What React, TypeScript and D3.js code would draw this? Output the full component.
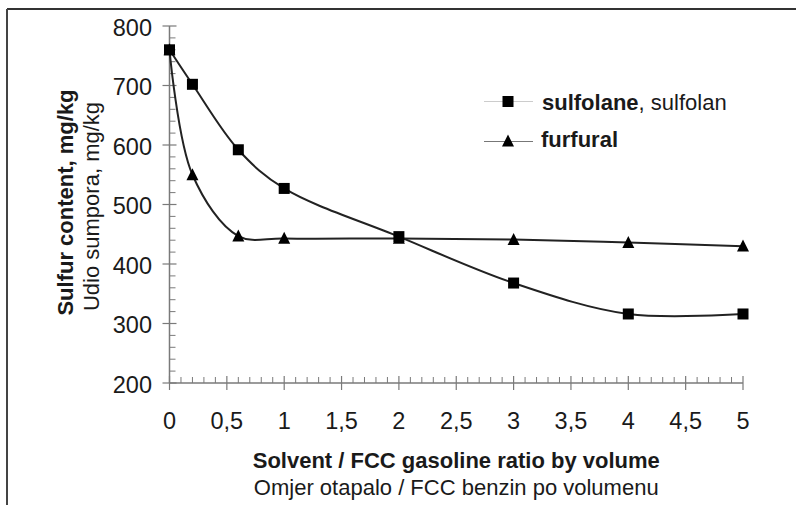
import React from "react";
import * as d3 from "d3";

const ratios = [0, 0.2, 0.6, 1, 2, 3, 4, 5];
const sulfolane = [760, 702, 592, 527, 446, 368, 316, 316];
const furfural = [760, 550, 447, 443, 443, 441, 436, 430];
const xTicks = [0, 0.5, 1, 1.5, 2, 2.5, 3, 3.5, 4, 4.5, 5];
const yTicks = [200, 300, 400, 500, 600, 700, 800];
const xTitle = "Solvent / FCC gasoline ratio by volume";
const xSubtitle = "Omjer otapalo / FCC benzin po volumenu";
const yTitle = "Sulfur content, mg/kg";
const ySubtitle = "Udio sumpora, mg/kg";

const W = 796;
const H = 505;
const FONT = "'Liberation Sans', Arial, Helvetica, sans-serif";

export default function App() {
  const x = d3.scaleLinear().domain([0, 5]).range([169.5, 743]);
  const y = d3.scaleLinear().domain([200, 800]).range([383, 26]);
  const line = d3
    .line<[number, number]>()
    .x((d) => x(d[0]))
    .y((d) => y(d[1]))
    .curve(d3.curveCatmullRom.alpha(0.5));

  const sData: [number, number][] = ratios.map((r, i) => [r, sulfolane[i]]);
  const fData: [number, number][] = ratios.map((r, i) => [r, furfural[i]]);

  const xMinor = d3.range(0, 5.0001, 0.1).filter((v) => Math.abs(v * 2 - Math.round(v * 2)) > 1e-6);
  const yMinor = d3.range(200, 801, 20).filter((v) => v % 100 !== 0);

  const axisColor = "#7a7a7a";
  const ink = "#1a1a1a";
  const tri = (cx: number, cy: number, s = 12) =>
    `M${cx},${cy - s * 0.55} L${cx + s / 2},${cy + s * 0.45} L${cx - s / 2},${cy + s * 0.45} Z`;

  const plotCy = (y(200) + y(800)) / 2;
  const plotCx = (x(0) + x(5)) / 2;

  return (
    <svg
      width={W}
      height={H}
      style={{ position: "absolute", left: 0, top: 0, background: "#fff" }}
      fontFamily={FONT}
    >
      <rect x={0} y={0} width={W} height={H} fill="#fff" />
      {/* frame */}
      <line x1={7} y1={9} x2={W} y2={9} stroke="#333" strokeWidth={2} />
      <line x1={7} y1={9} x2={7} y2={H} stroke="#444" strokeWidth={2} />

      {/* axes */}
      <line x1={x(0)} y1={y(200)} x2={x(0)} y2={y(800)} stroke={axisColor} strokeWidth={1.5} />
      <line x1={x(0)} y1={y(200)} x2={x(5)} y2={y(200)} stroke={axisColor} strokeWidth={1.5} />
      {yTicks.map((t) => (
        <line key={"ym" + t} x1={x(0) - 7} x2={x(0) + 7} y1={y(t)} y2={y(t)} stroke={axisColor} strokeWidth={1.2} />
      ))}
      {yMinor.map((t) => (
        <line key={"yn" + t} x1={x(0)} x2={x(0) + 6} y1={y(t)} y2={y(t)} stroke={axisColor} strokeWidth={1} />
      ))}
      {xTicks.map((t) => (
        <line key={"xm" + t} x1={x(t)} x2={x(t)} y1={y(200) - 7} y2={y(200) + 7} stroke={axisColor} strokeWidth={1.2} />
      ))}
      {xMinor.map((t) => (
        <line key={"xn" + t} x1={x(t)} x2={x(t)} y1={y(200) - 6} y2={y(200)} stroke={axisColor} strokeWidth={1} />
      ))}

      {/* tick labels */}
      {yTicks.map((t) => (
        <text key={"yl" + t} x={152} y={y(t) + 9.5} textAnchor="end" fontSize={23.5} fill={ink}>
          {t}
        </text>
      ))}
      {xTicks.map((t) => (
        <text key={"xl" + t} x={x(t)} y={429} textAnchor="middle" fontSize={23.5} fill={ink}>
          {String(t).replace(".", ",")}
        </text>
      ))}

      {/* axis titles */}
      <text x={plotCx} y={467.5} textAnchor="middle" fontSize={22} fontWeight="bold" fill={ink}>
        {xTitle}
      </text>
      <text x={plotCx} y={495} textAnchor="middle" fontSize={22} fill={ink}>
        {xSubtitle}
      </text>
      <text
        transform={`translate(72.5,${plotCy - 2}) rotate(-90)`}
        textAnchor="middle"
        fontSize={22}
        fontWeight="bold"
        fill={ink}
      >
        {yTitle}
      </text>
      <text
        transform={`translate(98.5,${plotCy + 2}) rotate(-90)`}
        textAnchor="middle"
        fontSize={22}
        fill={ink}
      >
        {ySubtitle}
      </text>

      {/* series */}
      <path d={line(sData) || ""} fill="none" stroke="#222" strokeWidth={2} />
      <path d={line(fData) || ""} fill="none" stroke="#222" strokeWidth={2} />
      {sData.map((d, i) => (
        <rect key={"s" + i} x={x(d[0]) - 5.5} y={y(d[1]) - 5.5} width={11} height={11} fill="#000" />
      ))}
      {fData.map((d, i) => (
        <path key={"f" + i} d={tri(x(d[0]), y(d[1]))} fill="#000" />
      ))}

      {/* legend */}
      <line x1={484} x2={533} y1={101.5} y2={101.5} stroke="#ccc" strokeWidth={1.2} />
      <rect x={508 - 5.5} y={101.5 - 5.5} width={11} height={11} fill="#000" />
      <text x={542} y={109.5} fontSize={22} fill={ink}>
        <tspan fontWeight="bold">sulfolane</tspan>
        <tspan>, sulfolan</tspan>
      </text>
      <line x1={484} x2={533} y1={141.5} y2={141.5} stroke="#777" strokeWidth={1.2} />
      <path d={tri(508, 141)} fill="#000" />
      <text x={541} y={146.5} fontSize={22} fontWeight="bold" fill={ink}>
        furfural
      </text>
    </svg>
  );
}
